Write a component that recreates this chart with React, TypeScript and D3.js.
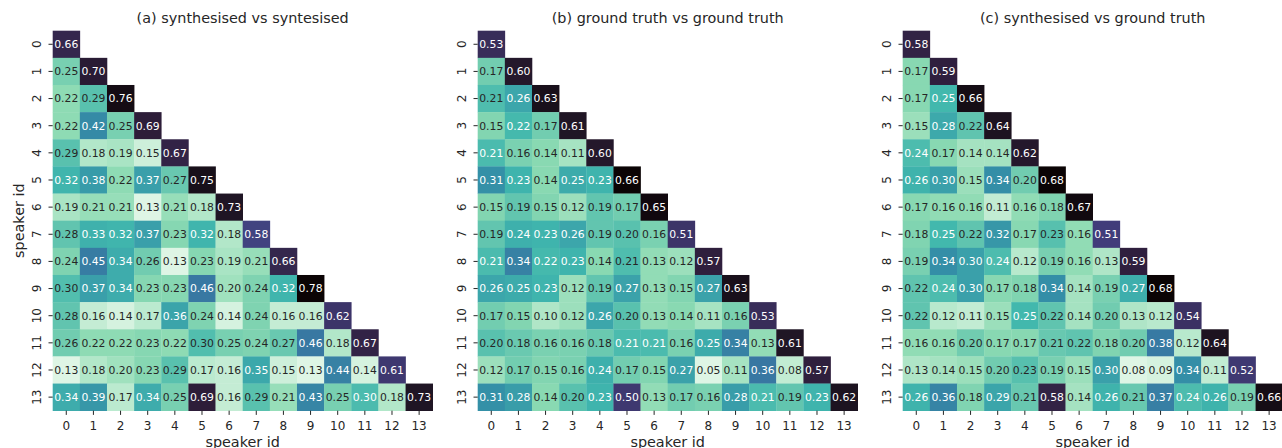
import React from "react";
import * as d3 from "d3";

const speakers = ["0", "1", "2", "3", "4", "5", "6", "7", "8", "9", "10", "11", "12", "13"];

const titles = [
  "(a) synthesised vs syntesised",
  "(b) ground truth vs ground truth",
  "(c) synthesised vs ground truth",
];

const synthVsSynth: number[][] = [
  [0.66],
  [0.25, 0.70],
  [0.22, 0.29, 0.76],
  [0.22, 0.42, 0.25, 0.69],
  [0.29, 0.18, 0.19, 0.15, 0.67],
  [0.32, 0.38, 0.22, 0.37, 0.27, 0.75],
  [0.19, 0.21, 0.21, 0.13, 0.21, 0.18, 0.73],
  [0.28, 0.33, 0.32, 0.37, 0.23, 0.32, 0.18, 0.58],
  [0.24, 0.45, 0.34, 0.26, 0.13, 0.23, 0.19, 0.21, 0.66],
  [0.298, 0.37, 0.34, 0.23, 0.23, 0.46, 0.20, 0.24, 0.32, 0.78],
  [0.28, 0.16, 0.14, 0.17, 0.36, 0.24, 0.14, 0.24, 0.16, 0.16, 0.62],
  [0.26, 0.22, 0.22, 0.23, 0.22, 0.298, 0.25, 0.24, 0.27, 0.46, 0.18, 0.67],
  [0.13, 0.18, 0.20, 0.23, 0.29, 0.17, 0.16, 0.35, 0.15, 0.13, 0.44, 0.14, 0.61],
  [0.34, 0.39, 0.17, 0.34, 0.25, 0.69, 0.16, 0.29, 0.21, 0.43, 0.25, 0.304, 0.18, 0.73],
];

const gtVsGt: number[][] = [
  [0.53],
  [0.17, 0.60],
  [0.21, 0.26, 0.63],
  [0.15, 0.22, 0.17, 0.61],
  [0.214, 0.16, 0.14, 0.11, 0.60],
  [0.31, 0.23, 0.14, 0.25, 0.23, 0.66],
  [0.15, 0.19, 0.15, 0.12, 0.19, 0.17, 0.65],
  [0.19, 0.24, 0.23, 0.26, 0.19, 0.20, 0.16, 0.51],
  [0.214, 0.34, 0.22, 0.23, 0.14, 0.21, 0.13, 0.12, 0.57],
  [0.26, 0.25, 0.23, 0.12, 0.19, 0.27, 0.13, 0.15, 0.27, 0.63],
  [0.17, 0.15, 0.10, 0.12, 0.26, 0.20, 0.13, 0.14, 0.11, 0.16, 0.53],
  [0.20, 0.18, 0.16, 0.16, 0.18, 0.214, 0.214, 0.16, 0.25, 0.34, 0.13, 0.61],
  [0.12, 0.17, 0.15, 0.16, 0.24, 0.17, 0.15, 0.27, 0.05, 0.11, 0.36, 0.08, 0.57],
  [0.31, 0.28, 0.14, 0.20, 0.23, 0.50, 0.13, 0.17, 0.16, 0.28, 0.214, 0.19, 0.23, 0.62],
];

const synthVsGt: number[][] = [
  [0.58],
  [0.17, 0.59],
  [0.17, 0.25, 0.66],
  [0.15, 0.28, 0.22, 0.64],
  [0.24, 0.17, 0.14, 0.14, 0.62],
  [0.26, 0.30, 0.15, 0.34, 0.20, 0.68],
  [0.17, 0.16, 0.16, 0.11, 0.16, 0.18, 0.67],
  [0.18, 0.25, 0.22, 0.32, 0.17, 0.23, 0.16, 0.51],
  [0.19, 0.34, 0.30, 0.24, 0.12, 0.19, 0.16, 0.13, 0.59],
  [0.22, 0.24, 0.30, 0.17, 0.18, 0.34, 0.14, 0.19, 0.27, 0.68],
  [0.22, 0.12, 0.11, 0.15, 0.25, 0.22, 0.14, 0.20, 0.13, 0.12, 0.54],
  [0.16, 0.16, 0.20, 0.17, 0.17, 0.21, 0.22, 0.18, 0.20, 0.38, 0.12, 0.64],
  [0.13, 0.14, 0.15, 0.20, 0.23, 0.19, 0.15, 0.30, 0.08, 0.09, 0.34, 0.11, 0.52],
  [0.26, 0.36, 0.18, 0.29, 0.21, 0.58, 0.14, 0.26, 0.21, 0.37, 0.24, 0.26, 0.19, 0.66],
];

const panels = [synthVsSynth, gtVsGt, synthVsGt];

const makoStops = ["#0b0405", "#2e1e3b", "#413d7b", "#37659e", "#348fa7", "#40b7ad", "#8bdab2", "#def5e5"];
const mako = d3
  .scaleLinear<string>()
  .domain(makoStops.map((_, i) => i / (makoStops.length - 1)))
  .range(makoStops)
  .interpolate(d3.interpolateLab);

function relLum(c: string) {
  const rgb = d3.rgb(c);
  const f = (v: number) => {
    v /= 255;
    return v <= 0.03928 ? v / 12.92 : Math.pow((v + 0.055) / 1.055, 2.4);
  };
  return 0.2126 * f(rgb.r) + 0.7152 * f(rgb.g) + 0.0722 * f(rgb.b);
}

const W = 1282;
const H = 448;
const size = 380;
const panelX = [52.7, 477.7, 902.7];
const top = 30.7;
const textCol = "#262626";
const font = "DejaVu Sans, sans-serif";

function Panel({ data, title, x0, showY }: { data: number[][]; title: string; x0: number; showY: boolean }) {
  const xs = d3.scaleBand<string>().domain(speakers).range([0, size]);
  const ys = d3.scaleBand<string>().domain(speakers).range([0, size]);
  const flat = data.flat();
  const vmin = d3.min(flat) as number;
  const vmax = d3.max(flat) as number;
  const t = d3.scaleLinear().domain([vmin, vmax]).range([1, 0]);
  const bw = xs.bandwidth();
  return (
    <g transform={`translate(${x0},${top})`}>
      <text x={size / 2} y={-7.4} textAnchor="middle" fontSize={14.4} fill={textCol} fontFamily={font}>
        {title}
      </text>
      {data.map((row, i) =>
        row.map((v, j) => {
          const c = mako(t(v));
          const light = relLum(c) > 0.408;
          return (
            <g key={`${i}-${j}`}>
              <rect
                x={xs(speakers[j])}
                y={ys(speakers[i])}
                width={bw + 0.3}
                height={bw + 0.3}
                fill={c}
              />
              <text
                x={(xs(speakers[j]) as number) + bw / 2}
                y={(ys(speakers[i]) as number) + bw / 2}
                dy="0.36em"
                textAnchor="middle"
                fontSize={10.8}
                fontFamily={font}
                fill={light ? textCol : "#ffffff"}
              >
                {v.toFixed(2)}
              </text>
            </g>
          );
        })
      )}
      {speakers.map((s) => {
        const cx = (xs(s) as number) + bw / 2;
        return (
          <g key={`xt-${s}`}>
            <line x1={cx} x2={cx} y1={size} y2={size + 4.2} stroke={textCol} strokeWidth={1} />
            <text x={cx} y={size + 19.8} textAnchor="middle" fontSize={12} fill={textCol} fontFamily={font}>
              {s}
            </text>
          </g>
        );
      })}
      {speakers.map((s) => {
        const cy = (ys(s) as number) + bw / 2;
        return (
          <g key={`yt-${s}`}>
            <line x1={-4.2} x2={0} y1={cy} y2={cy} stroke={textCol} strokeWidth={1} />
            <text
              transform={`translate(${-12.2},${cy}) rotate(-90)`}
              textAnchor="middle"
              fontSize={12}
              fill={textCol}
              fontFamily={font}
            >
              {s}
            </text>
          </g>
        );
      })}
      <text x={size / 2} y={416.3} textAnchor="middle" fontSize={14.4} fill={textCol} fontFamily={font}>
        speaker id
      </text>
      {showY && (
        <text
          transform={`translate(${24 - x0},${size / 2}) rotate(-90)`}
          textAnchor="middle"
          fontSize={14.4}
          fill={textCol}
          fontFamily={font}
        >
          speaker id
        </text>
      )}
    </g>
  );
}

export default function App() {
  return (
    <svg
      width={W}
      height={H}
      style={{ position: "absolute", left: 0, top: 0, background: "#ffffff" }}
      shapeRendering="auto"
    >
      <rect width={W} height={H} fill="#ffffff" />
      {panels.map((p, k) => (
        <Panel key={k} data={p} title={titles[k]} x0={panelX[k]} showY={k === 0} />
      ))}
    </svg>
  );
}
